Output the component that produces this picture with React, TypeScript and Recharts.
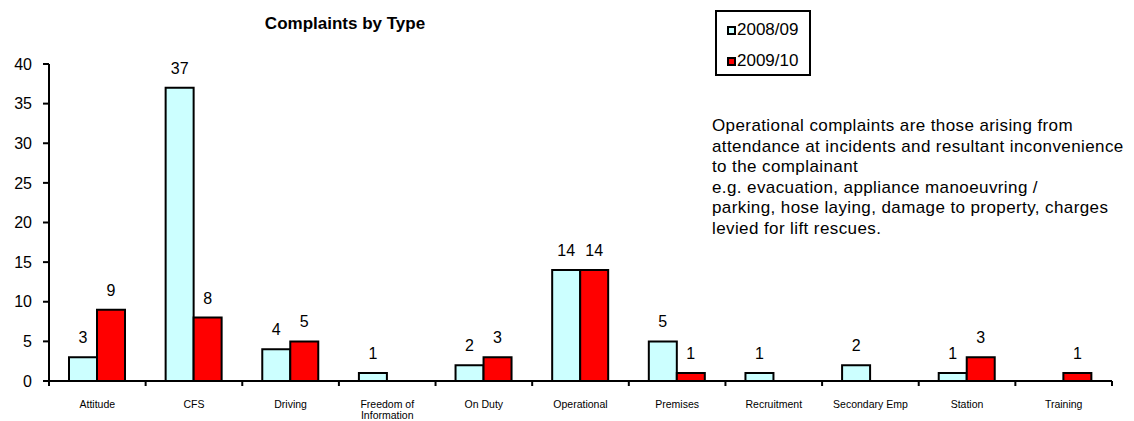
import React from "react";
import {
  BarChart,
  Bar,
  XAxis,
  YAxis,
  LabelList,
  Legend,
} from "recharts";

const categories = [
  "Attitude",
  "CFS",
  "Driving",
  "Freedom of Information",
  "On Duty",
  "Operational",
  "Premises",
  "Recruitment",
  "Secondary Emp",
  "Station",
  "Training",
];
const values0809 = [3, 37, 4, 1, 2, 14, 5, 1, 2, 1, 0];
const values0910 = [9, 8, 5, 0, 3, 14, 1, 0, 0, 3, 1];
const yTicks = [0, 5, 10, 15, 20, 25, 30, 35, 40];

const noteLines = [
  "Operational complaints are those arising from",
  "attendance at incidents and resultant inconvenience",
  "to the complainant",
  "e.g. evacuation, appliance manoeuvring /",
  "parking, hose laying, damage to property, charges",
  "levied for lift rescues.",
];

const data = categories.map((name, i) => ({
  name,
  y0809: values0809[i],
  y0910: values0910[i],
}));

const W = 1134;
const H = 421;
const M = { top: 64, right: 22, bottom: 0, left: 0 };
const Y_W = 49;
const BAND = (W - M.left - M.right - Y_W) / categories.length;
const FONT = "'Liberation Sans', Arial, sans-serif";

// wrap a label into lines of roughly maxChars
function wrap(label: string, maxChars: number) {
  const lines: string[] = [];
  let cur = "";
  label.split(" ").forEach((w) => {
    const next = cur ? cur + " " + w : w;
    if (next.length > maxChars && cur) {
      lines.push(cur);
      cur = w;
    } else {
      cur = next;
    }
  });
  if (cur) lines.push(cur);
  return lines;
}

function CategoryTick(props: any) {
  const { x, y, payload, index } = props;
  const lines = wrap(payload.value, 14);
  return (
    <g>
      <line x1={x - BAND / 2} x2={x - BAND / 2} y1={y} y2={y + 5} stroke="#000" strokeWidth={2} />
      {index === categories.length - 1 && (
        <line x1={x + BAND / 2} x2={x + BAND / 2} y1={y} y2={y + 5} stroke="#000" strokeWidth={2} />
      )}
      <text x={x} y={y + 27} textAnchor="middle" fontSize={10.5} fontFamily={FONT} fill="#000">
        {lines.map((l, i) => (
          <tspan key={i} x={x} dy={i === 0 ? 0 : 10.5}>
            {l}
          </tspan>
        ))}
      </text>
    </g>
  );
}

function LegendBox({ payload }: any) {
  return (
    <div
      style={{
        border: "2px solid #000",
        width: 96,
        height: 66,
        boxSizing: "border-box",
        padding: "7px 0 0 10px",
        fontFamily: FONT,
        fontSize: 17,
        background: "#fff",
      }}
    >
      {(payload || []).map((p: any, i: number) => (
        <div key={i} style={{ display: "flex", alignItems: "center", height: 22, marginBottom: 9 }}>
          <span
            style={{
              width: 9,
              height: 9,
              background: p.color,
              border: "2px solid #000",
              boxSizing: "border-box",
              marginRight: 1,
            }}
          />
          <span>{p.value}</span>
        </div>
      ))}
    </div>
  );
}

const hideZero = (v: any) => (v ? v : "");

export default function App() {
  return (
    <div style={{ position: "absolute", left: 0, top: 0, width: W, height: H, background: "#fff" }}>
      <BarChart
        width={W}
        height={H}
        data={data}
        margin={M}
        barGap={0}
        barCategoryGap={20}
      >
        <XAxis
          dataKey="name"
          interval={0}
          height={40}
          tickSize={0}
          tickMargin={0}
          axisLine={{ stroke: "#000", strokeWidth: 2 }}
          tickLine={false}
          tick={<CategoryTick />}
        />
        <YAxis
          width={Y_W}
          domain={[0, 40]}
          ticks={yTicks}
          interval={0}
          tickSize={6}
          tickMargin={11}
          axisLine={{ stroke: "#000", strokeWidth: 2 }}
          tickLine={{ stroke: "#000", strokeWidth: 2 }}
          tick={{ fill: "#000", fontSize: 16, fontFamily: FONT }}
        />
        <Legend
          layout="vertical"
          align="center"
          verticalAlign="middle"
          wrapperStyle={{ position: "absolute", left: 715, top: 10, width: 96 }}
          content={<LegendBox />}
        />
        <Bar
          dataKey="y0809"
          name="2008/09"
          fill="#CCFFFF"
          stroke="#000"
          strokeWidth={2}
          isAnimationActive={false}
        >
          <LabelList
            dataKey="y0809"
            position="top"
            offset={14}
            formatter={hideZero}
            style={{ fill: "#000", fontSize: 16, fontFamily: FONT }}
          />
        </Bar>
        <Bar
          dataKey="y0910"
          name="2009/10"
          fill="#FF0000"
          stroke="#000"
          strokeWidth={2}
          isAnimationActive={false}
        >
          <LabelList
            dataKey="y0910"
            position="top"
            offset={14}
            formatter={hideZero}
            style={{ fill: "#000", fontSize: 16, fontFamily: FONT }}
          />
        </Bar>
      </BarChart>
      <div
        style={{
          position: "absolute",
          left: 245,
          top: 14,
          width: 200,
          textAlign: "center",
          fontFamily: FONT,
          fontWeight: "bold",
          fontSize: 17,
        }}
      >
        Complaints by Type
      </div>
      <div
        style={{
          position: "absolute",
          left: 712,
          top: 116,
          fontFamily: FONT,
          fontSize: 17,
          letterSpacing: "0.4px",
          lineHeight: "20.6px",
          whiteSpace: "pre",
          color: "#000",
        }}
      >
        {noteLines.join("\n")}
      </div>
    </div>
  );
}
